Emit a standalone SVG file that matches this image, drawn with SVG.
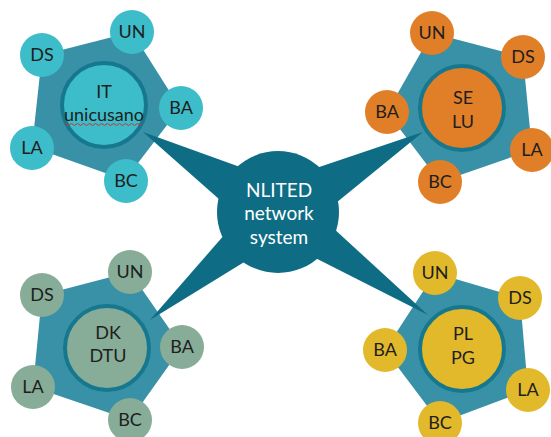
<svg xmlns="http://www.w3.org/2000/svg" width="551" height="437" viewBox="0 0 551 437">
<style>
.pent{fill:#3891A7}
.spoke{fill:#0E6D84}
.inner{stroke:#16788E;stroke-width:4}
.it{fill:#3DBCC9}
.se{fill:#E07F27}
.dk{fill:#87AC98}
.pl{fill:#E2B92B}
text{font-family:Lato,"Open Sans","Liberation Sans",sans-serif;font-size:18px;fill:#1e1e1e;text-anchor:middle}
.ctext{fill:#ffffff;font-size:19px}
</style>
<rect width="551" height="437" fill="#ffffff"/>
<g id="backplates">
<polygon class="pent" points="132,32 180,108 125,180 32,147 42,55"/>
<polygon class="pent" points="432,33 523,57 532,150 440,182 387,112"/>
<polygon class="pent" points="130,272 182,347 130,420 33,387 42,295"/>
<polygon class="pent" points="435,273 520,298 528,390 440,423 385,350"/>
</g>
<g id="connectors">
<polygon class="spoke" points="143,132 263,238 293,186"/>
<polygon class="spoke" points="423,132 293,238 263,186"/>
<polygon class="spoke" points="150,320 296,230 260,194"/>
<polygon class="spoke" points="428,315 260,230 296,194"/>
</g>
<g id="center">
<circle class="spoke" cx="278" cy="212" r="61"/>
<text class="ctext" x="279" y="197">NLITED</text>
<text class="ctext" x="279" y="220">network</text>
<text class="ctext" x="279" y="244">system</text>
</g>
<g id="it">
<circle class="it inner" cx="104" cy="105" r="42"/>
<text x="104" y="98">IT</text>
<text x="104" y="121">unicusano</text>
<path d="M64,124.5 q1.5,-2 3,0 t3,0 t3,0 t3,0 t3,0 t3,0 t3,0 t3,0 t3,0 t3,0 t3,0 t3,0 t3,0 t3,0 t3,0 t3,0 t3,0 t3,0 t3,0 t3,0 t3,0 t3,0 t3,0 t3,0 t3,0 t3,0" fill="none" stroke="#d03030" stroke-width="1"/>
<circle class="it" cx="132" cy="32" r="22"/><text x="132" y="38">UN</text>
<circle class="it" cx="42" cy="55" r="22"/><text x="42" y="61">DS</text>
<circle class="it" cx="181" cy="108" r="22"/><text x="181" y="114">BA</text>
<circle class="it" cx="32" cy="148" r="22"/><text x="32" y="154">LA</text>
<circle class="it" cx="126" cy="181" r="22"/><text x="126" y="187">BC</text>
</g>
<g id="se">
<circle class="se inner" cx="462" cy="108" r="42"/>
<text x="463" y="104">SE</text>
<text x="463" y="128">LU</text>
<circle class="se" cx="432" cy="33" r="22"/><text x="432" y="39">UN</text>
<circle class="se" cx="523" cy="57" r="22"/><text x="523" y="63">DS</text>
<circle class="se" cx="387" cy="112" r="22"/><text x="387" y="118">BA</text>
<circle class="se" cx="532" cy="150" r="22"/><text x="532" y="156">LA</text>
<circle class="se" cx="440" cy="182" r="22"/><text x="440" y="188">BC</text>
</g>
<g id="dk">
<circle class="dk inner" cx="107" cy="348" r="42"/>
<text x="108" y="339">DK</text>
<text x="108" y="362">DTU</text>
<circle class="dk" cx="130" cy="272" r="22"/><text x="130" y="278">UN</text>
<circle class="dk" cx="42" cy="295" r="22"/><text x="42" y="301">DS</text>
<circle class="dk" cx="182" cy="347" r="22"/><text x="182" y="353">BA</text>
<circle class="dk" cx="33" cy="387" r="22"/><text x="33" y="393">LA</text>
<circle class="dk" cx="130" cy="420" r="22"/><text x="130" y="426">BC</text>
</g>
<g id="pl">
<circle class="pl inner" cx="462" cy="349" r="42"/>
<text x="463" y="340">PL</text>
<text x="463" y="364">PG</text>
<circle class="pl" cx="435" cy="273" r="22"/><text x="435" y="279">UN</text>
<circle class="pl" cx="520" cy="298" r="22"/><text x="520" y="304">DS</text>
<circle class="pl" cx="385" cy="350" r="22"/><text x="385" y="356">BA</text>
<circle class="pl" cx="528" cy="390" r="22"/><text x="528" y="396">LA</text>
<circle class="pl" cx="440" cy="423" r="22"/><text x="440" y="429">BC</text>
</g>
</svg>
